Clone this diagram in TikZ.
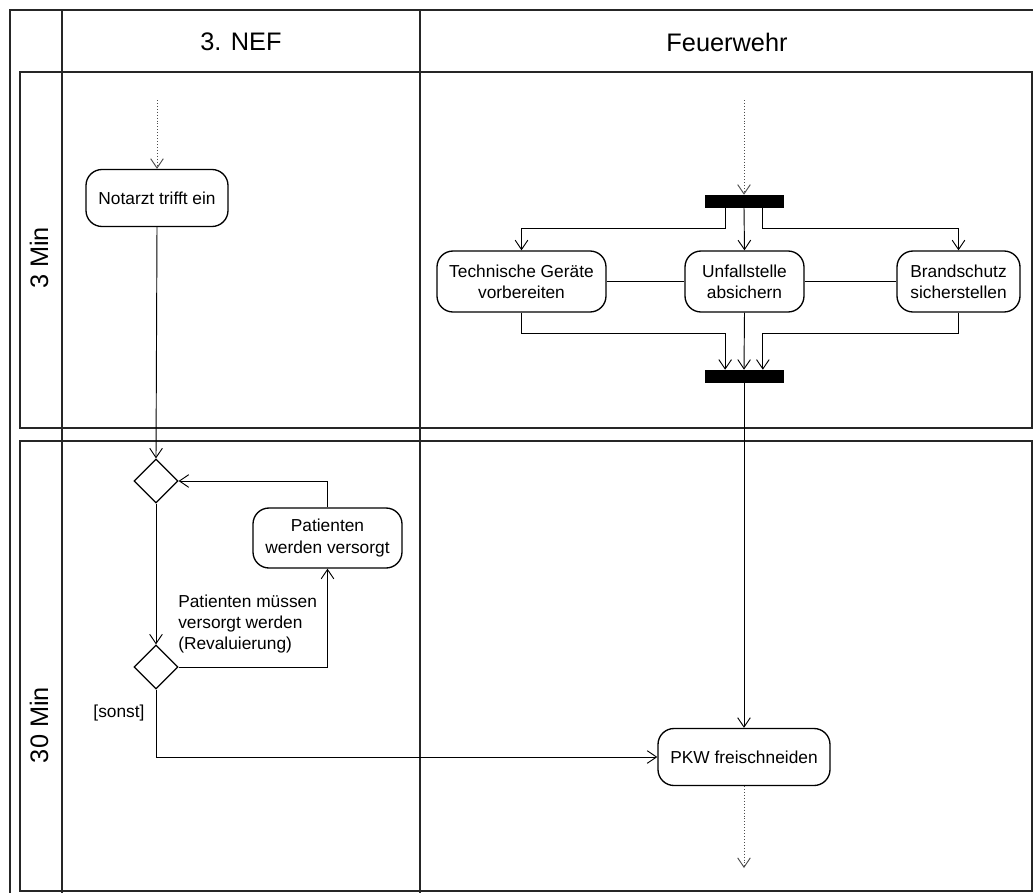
\documentclass[tikz,border=0pt]{standalone}
\usepackage{fontspec}
\setmainfont{Liberation Sans}
\usetikzlibrary{shapes.geometric,arrows.meta,calc}
\begin{document}
\begin{tikzpicture}[x=0.75pt,y=-0.75pt,
  frame/.style={line width=1.5pt,draw=black!85},
  act/.style={draw,rounded corners=12pt,line width=1pt,align=center,inner sep=2pt,font=\fontsize{13}{16}\selectfont},
  bar/.style={fill=black,draw=black,inner sep=0pt,minimum width=58.5pt,minimum height=9pt},
  dec/.style={draw,diamond,aspect=1,inner sep=0pt,minimum width=33pt,minimum height=33pt,line width=0.9pt},
  arr/.style={-{Straight Barb[length=7pt,width=9.5pt]},line width=0.7pt},
  ln/.style={line width=0.7pt},
  dot/.style={arr,dash pattern=on 0.6pt off 1.6pt,draw=black!70},
  hdr/.style={font=\fontsize{19}{22}\selectfont},
  lbl/.style={font=\fontsize{13}{15.5}\selectfont,inner sep=0pt}]
\useasboundingbox (0,0) rectangle (1033,893);
% frame
\draw[frame] (1033,10) -- (10,10) -- (10,893);
\draw[frame] (62,10) -- (62,893);
\draw[frame] (420,10) -- (420,893);
\draw[frame] (20,72) rectangle (1032,428);
\draw[frame] (20,441) rectangle (1032,891);
\node[hdr] (h1) at (241,42) {3. NEF};
\node[hdr] (h2) at (727,42) {Feuerwehr};
\node[hdr,rotate=90] (r1) at (39,258) {3 Min};
\node[hdr,rotate=90] (r2) at (39,725) {30 Min};
% nodes
\node[act,minimum width=106.5pt,minimum height=42.75pt] (nota) at (157,198) {Notarzt trifft ein};
\node[bar] (fork) at (744,201) {};
\node[bar] (join) at (744,376) {};
\node[act,minimum width=126.75pt,minimum height=45.75pt] (tech) at (521.5,281.5) {Technische Geräte\\vorbereiten};
\node[act,minimum width=89.25pt,minimum height=45.75pt] (unf) at (744.5,281.5) {Unfallstelle\\absichern};
\node[act,minimum width=92.25pt,minimum height=45.75pt] (brand) at (958.5,281.5) {Brandschutz\\sicherstellen};
\node[dec] (d1) at (156,481) {};
\node[dec] (d2) at (156,667) {};
\node[act,minimum width=111.75pt,minimum height=45pt] (pat) at (327.5,538) {Patienten\\werden versorgt};
\node[act,minimum width=129pt,minimum height=42.75pt] (pkw) at (744,757) {PKW freischneiden};
\node[lbl,anchor=west,align=left] (cond) at (178,624) {Patienten müssen\\versorgt werden\\(Revaluierung)};
\node[lbl] (sonst) at (119,713) {[sonst]};
\coordinate (s1) at (157,100);
\coordinate (s2) at (744,100);
\coordinate (e1) at (744,868);
\coordinate (fl) at ($(fork.south west)!0.26!(fork.south east)$);
\coordinate (fr) at ($(fork.south west)!0.74!(fork.south east)$);
\coordinate (jl) at ($(join.north west)!0.26!(join.north east)$);
\coordinate (jr) at ($(join.north west)!0.74!(join.north east)$);
% connectors
\draw[dot] (s1) -- (nota.north);
\draw[dot] (s2) -- (fork.north);
\draw[arr] (nota.south) -- (d1.north);
\draw[arr] (fl) -- ++(0,21) -| (tech.north);
\draw[arr] (fork.south) -- (unf.north);
\draw[arr] (fr) -- ++(0,21) -| (brand.north);
\draw[ln] (tech.east) -- (unf.west);
\draw[ln] (unf.east) -- (brand.west);
\draw[arr] (tech.south) -- ++(0,21) -| (jl);
\draw[arr] (unf.south) -- (join.north);
\draw[arr] (brand.south) -- ++(0,21) -| (jr);
\draw[arr] (join.south) -- (pkw.north);
\draw[arr] (pat.north) |- (d1.east);
\draw[arr] (d1.south) -- (d2.north);
\draw[arr] (d2.east) -| (pat.south);
\draw[arr] (d2.south) |- (pkw.west);
\draw[dot] (pkw.south) -- (e1);
\end{tikzpicture}
\end{document}
